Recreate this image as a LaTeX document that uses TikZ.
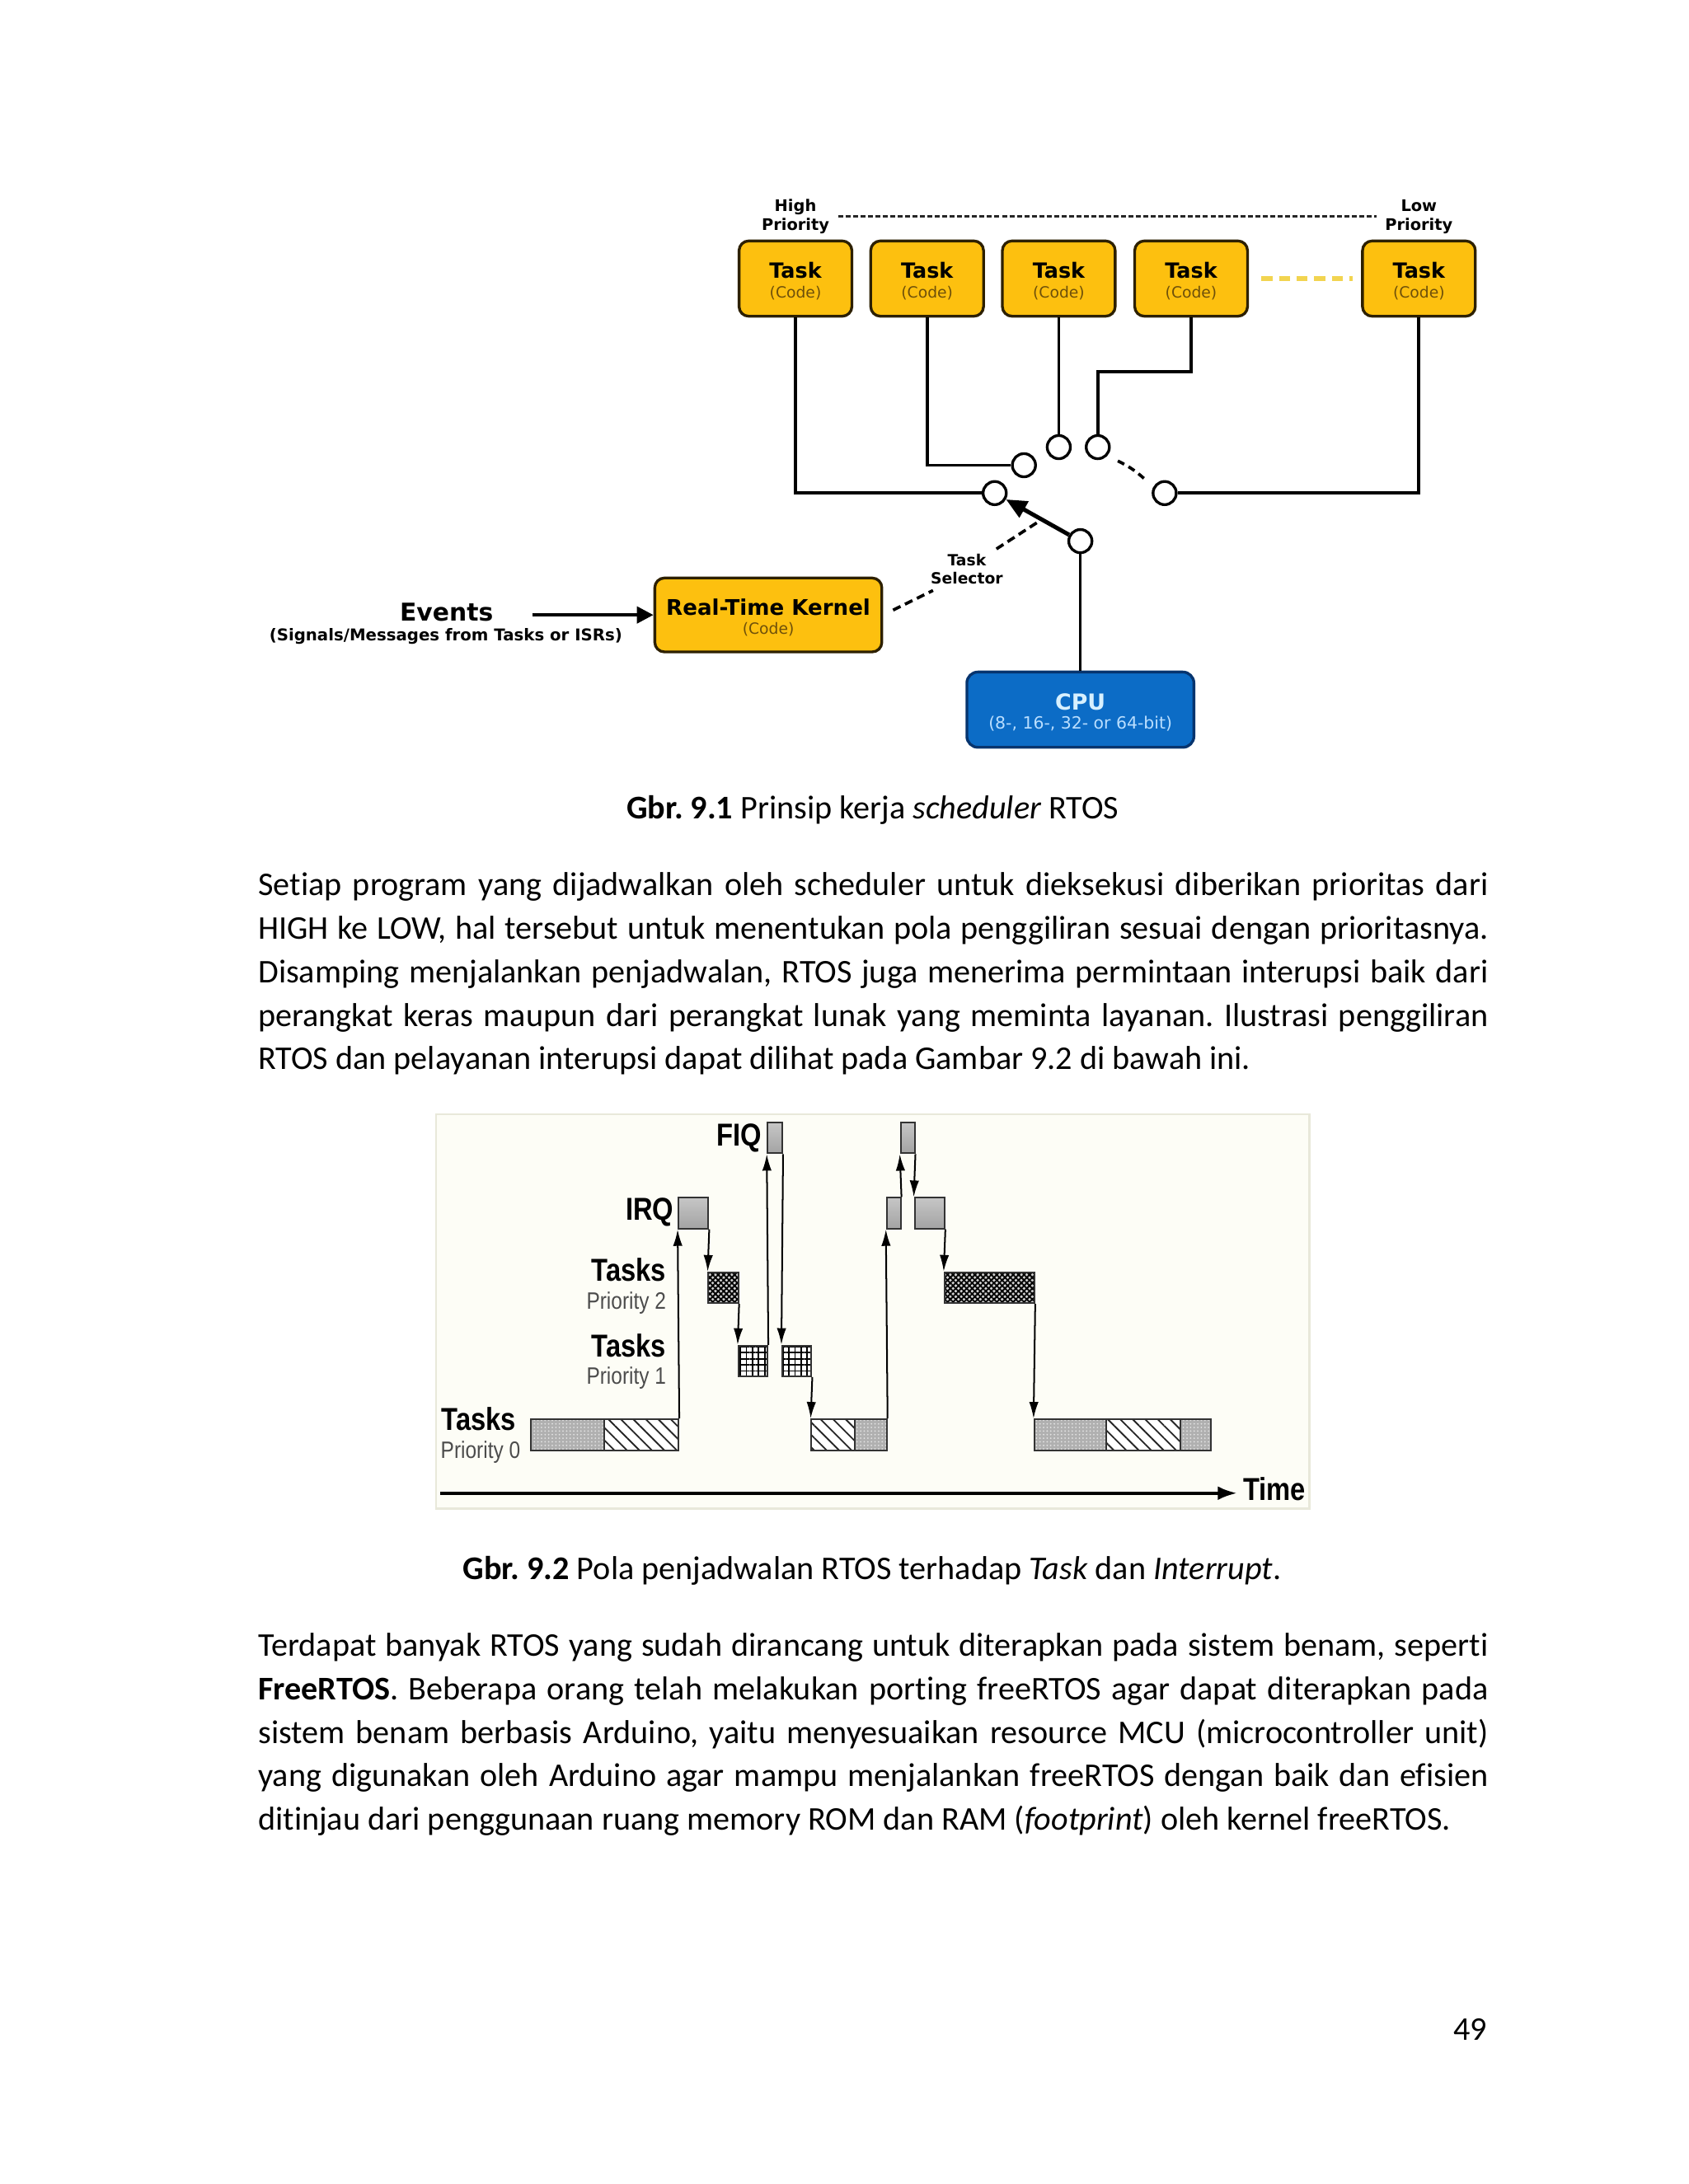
\documentclass[tikz,border=0pt]{standalone}
\usepackage{fontspec}
\setmainfont[Ligatures={CommonOff}]{Carlito}
\newfontfamily\vfont{DejaVu Sans}
\newfontfamily\afont[FakeStretch=0.85]{Liberation Sans}
\usetikzlibrary{arrows.meta,patterns.meta,fit,calc}
\frenchspacing
\definecolor{taskyellow}{RGB}{253,192,15}
\definecolor{boxborder}{RGB}{45,32,0}
\definecolor{codebrown}{RGB}{110,80,10}
\definecolor{cpublue}{RGB}{12,108,198}
\definecolor{cpuborder}{RGB}{6,52,110}
\definecolor{cputext}{RGB}{215,240,255}
\definecolor{cpusub}{RGB}{185,222,255}
\definecolor{ydash}{RGB}{242,212,80}
\definecolor{framefill}{RGB}{253,253,246}
\definecolor{frameborder}{RGB}{232,232,218}
\newlength\txtw
\setlength\txtw{445.9pt}
\newcommand\jline[1]{\makebox[\txtw][s]{#1}}
\tikzset{
  txt/.style={inner sep=0pt, anchor=base west, font=\fontsize{12}{15}\selectfont},
  capt/.style={inner sep=0pt, anchor=base, font=\fontsize{12}{15}\selectfont},
  taskbox/.style={draw=boxborder, line width=1pt, fill=taskyellow, rounded corners=3.5pt,
    minimum width=40.9pt, minimum height=27.3pt, inner sep=0pt, align=center,
    font=\vfont\fontsize{7.6}{7}\selectfont},
  kbox/.style={taskbox, minimum width=82.3pt, minimum height=26.8pt, font=\vfont\fontsize{7.8}{6.9}\selectfont},
  cpubox/.style={draw=cpuborder, line width=1pt, fill=cpublue, rounded corners=4pt,
    minimum width=82.3pt, minimum height=27.3pt, inner sep=0pt, align=center,
    font=\vfont\fontsize{8}{7}\selectfont},
  prio/.style={inner sep=3pt, align=center, font=\vfont\bfseries\fontsize{5.8}{6.8}\selectfont},
  circ/.style={circle, draw, line width=1pt, fill=white, minimum size=8.4pt, inner sep=0pt},
  conn/.style={line width=1.1pt, black},
  seldash/.style={line width=1.1pt, dash pattern=on 3pt off 1.8pt},
  flbl/.style={inner sep=0pt, font=\afont\bfseries\fontsize{11.5}{12}\selectfont},
  flblr/.style={inner sep=0pt, text=black!70, font=\afont\fontsize{8.6}{9}\selectfont},
  bxline/.style={draw=black!80, line width=0.6pt},
  p0box/.style={bxline, inner sep=0pt},
  irqbox/.style={bxline, inner sep=0pt, top color=gray!45, bottom color=gray!72},
  p2box/.style={bxline, inner sep=0pt, preaction={fill=gray!35},
    pattern={Hatch[angle=45,distance=1.4pt,line width=0.55pt]}, pattern color=black},
  p1box/.style={bxline, inner sep=0pt, preaction={fill=white},
    pattern={Hatch[angle=0,distance=2.2pt,line width=0.5pt]}, pattern color=black},
  dotfill/.style={preaction={fill=gray!62}, pattern={Dots[radius=0.3pt,distance=1.3pt]}, pattern color=gray!22},
  hatchfill/.style={preaction={fill=white}, pattern={Lines[angle=-45,distance=3.2pt,line width=0.55pt]}, pattern color=black!85},
  a2/.style={line width=0.6pt, -{Latex[length=6pt,width=3.4pt]}}
}
\begin{document}
\begin{tikzpicture}[x=0.505pt,y=-0.505pt]
\useasboundingbox[fill=white] (0,0) rectangle (1212,1568);

%================ Figure 9.1 =================
\node[prio] (hi) at (571,155.5) {High\\Priority};
\node[prio] (lo) at (1018.5,155.5) {Low\\Priority};
\draw[line width=0.9pt, black!85, dash pattern=on 1.8pt off 0.9pt] (hi.east) -- (lo.west);

\node[taskbox] (t1) at (571,200) {\rule{0pt}{7.7pt}{\bfseries Task}\\{\fontsize{5.6}{7}\selectfont\color{codebrown}(Code)}};
\node[taskbox] (t2) at (665.5,200) {\rule{0pt}{7.7pt}{\bfseries Task}\\{\fontsize{5.6}{7}\selectfont\color{codebrown}(Code)}};
\node[taskbox] (t3) at (760,200) {\rule{0pt}{7.7pt}{\bfseries Task}\\{\fontsize{5.6}{7}\selectfont\color{codebrown}(Code)}};
\node[taskbox] (t4) at (855,200) {\rule{0pt}{7.7pt}{\bfseries Task}\\{\fontsize{5.6}{7}\selectfont\color{codebrown}(Code)}};
\node[taskbox] (t5) at (1018.5,200) {\rule{0pt}{7.7pt}{\bfseries Task}\\{\fontsize{5.6}{7}\selectfont\color{codebrown}(Code)}};
\draw[ydash, line width=1.6pt, dash pattern=on 4pt off 2.4pt, shorten <=4.5pt, shorten >=3pt] (t4) -- (t5);

\node[circ] (c1) at (714,354) {};
\node[circ] (c2) at (735,334) {};
\node[circ] (c3) at (760,321) {};
\node[circ] (c4) at (788,321) {};
\node[circ] (c5) at (836,354) {};
\node[circ] (csw) at (775.5,388.5) {};
\coordinate (k4) at (855,267);

\draw[conn] (t1.south) |- (c1.west);
\draw[conn] (t2.south) |- (c2.west);
\draw[conn] (t3.south) -- (c3.north);
\draw[conn] (t4.south) -- (k4) -| (c4.north);
\draw[conn] (t5.south) |- (c5.east);
\draw[line width=1.1pt, dash pattern=on 2.6pt off 1.8pt] ($(c4)!0.3!(c5)$) to[bend left=8] ($(c4)!0.72!(c5)$);
\draw[line width=1.5pt, -{Triangle[length=7.5pt,width=6.5pt]}] (csw) -- (c1);

\node[cpubox] (cpu) at (775.5,509.5) {\rule{0pt}{7.8pt}{\bfseries\color{cputext}CPU}\\{\fontsize{6.1}{7}\selectfont\color{cpusub}(8-, 16-, 32- or 64-bit)}};
\draw[conn] (csw) -- (cpu);

\node[kbox] (kernel) at (551.5,441.5) {\rule{0pt}{8pt}{\bfseries Real-Time Kernel}\\{\fontsize{5.6}{6.9}\selectfont\color{codebrown}(Code)}};

\node[inner sep=1pt, align=center, font=\vfont\bfseries\fontsize{5.6}{6.8}\selectfont] (sel) at (694,408.5) {Task\\Selector};
\coordinate (armpt) at ($(csw)!0.45!(c1)$);
\draw[seldash] ($(sel.north east)+(-7,-1)$) -- (armpt);
\draw[seldash, shorten <=4pt] (kernel.east) -- ($(sel.south west)+(4,2)$);

\node[inner sep=0pt, anchor=base, font=\vfont\bfseries\fontsize{8.9}{9}\selectfont] (evt) at (320.5,446) {Events};
\node[inner sep=0pt, anchor=base, font=\vfont\bfseries\fontsize{5.9}{6}\selectfont] (evsub) at (320,460) {(Signals/Messages from Tasks or ISRs)};
\coordinate (evs) at (382,441.5);
\draw[line width=1.2pt, -{Triangle[length=6pt,width=6pt]}] (evs) -- (kernel.west);

\node[capt] (cap1) at (626.5,588) {\textbf{Gbr. 9.1} Prinsip kerja \textit{scheduler} RTOS};

%================ Paragraph 1 =================
\node[txt] (l11) at (185,643) {\jline{Setiap program yang dijadwalkan oleh scheduler untuk dieksekusi diberikan prioritas dari}};
\node[txt] (l12) at (185,674.25) {\jline{HIGH ke LOW, hal tersebut untuk menentukan pola penggiliran sesuai dengan prioritasnya.}};
\node[txt] (l13) at (185,705.5) {\jline{Disamping menjalankan penjadwalan, RTOS juga menerima permintaan interupsi baik dari}};
\node[txt] (l14) at (185,736.75) {\jline{perangkat keras maupun dari perangkat lunak yang meminta layanan. Ilustrasi penggiliran}};
\node[txt] (l15) at (185,768) {RTOS dan pelayanan interupsi dapat dilihat pada Gambar 9.2 di bawah ini.};

%================ Figure 9.2 =================
\draw[fill=framefill, draw=frameborder, line width=0.8pt] (313,800) rectangle (940,1083);

\fill[dotfill] (381,1019) rectangle (434,1041.5);
\fill[hatchfill] (434,1019) rectangle (487,1041.5);
\fill[hatchfill] (582.5,1019) rectangle (613.6,1041.5);
\fill[dotfill] (613.6,1019) rectangle (636.5,1041.5);
\fill[dotfill] (742.5,1019) rectangle (794.2,1041.5);
\fill[hatchfill] (794.2,1019) rectangle (847.4,1041.5);
\fill[dotfill] (847.4,1019) rectangle (869,1041.5);
\draw[bxline] (434,1019) -- (434,1041.5);
\draw[bxline] (613.6,1019) -- (613.6,1041.5);
\draw[bxline] (794.2,1019) -- (794.2,1041.5);
\draw[bxline] (847.4,1019) -- (847.4,1041.5);

\node[p0box, fit={(381,1019) (487,1041.5)}] (p0a) {};
\node[p0box, fit={(582.5,1019) (636.5,1041.5)}] (p0b) {};
\node[p0box, fit={(742.5,1019) (869,1041.5)}] (p0c) {};

\node[irqbox, fit={(551,806) (561.5,828)}] (fiq1) {};
\node[irqbox, fit={(646.5,806) (656.5,828)}] (fiq2) {};
\node[irqbox, fit={(487,860) (508.5,882)}] (irq1) {};
\node[irqbox, fit={(636.5,860) (646.5,882)}] (irq2) {};
\node[irqbox, fit={(656.5,860) (678,882)}] (irq3) {};
\node[p2box, fit={(508.5,913.5) (530,935.5)}] (p2a) {};
\node[p2box, fit={(678,913.5) (742.5,935.5)}] (p2b) {};
\node[p1box, fit={(530,966) (551,988)}] (p1a) {};
\node[p1box, fit={(561.5,966) (582.5,988)}] (p1b) {};

\draw[a2] (p0a.north east) -- (irq1.south west);
\draw[a2] (irq1.south east) -- (p2a.north west);
\draw[a2] (p2a.south east) -- (p1a.north west);
\draw[a2] (p1a.north east) -- (fiq1.south west);
\draw[a2] (fiq1.south east) -- (p1b.north west);
\draw[a2] (p1b.south east) -- (p0b.north west);
\draw[a2] (p0b.north east) -- (irq2.south west);
\draw[a2] (irq2.north east) -- (fiq2.south west);
\draw[a2] (fiq2.south east) -- (irq3.north west);
\draw[a2] (irq3.south east) -- (p2b.north west);
\draw[a2] (p2b.south east) -- (p0c.north west);

\node[flbl, anchor=base east] (fiql) at (547,823) {FIQ};
\node[flbl, anchor=base east] (irql) at (484,876) {IRQ};
\node[flbl, anchor=base east] (t2l) at (478.5,920) {Tasks};
\node[flblr, anchor=base east] (p2l) at (478.5,940) {Priority 2};
\node[flbl, anchor=base east] (t1l) at (478.5,974) {Tasks};
\node[flblr, anchor=base east] (p1l) at (478.5,994) {Priority 1};
\node[flbl, anchor=base west] (t0l) at (316.5,1027) {Tasks};
\node[flblr, anchor=base west] (p0l) at (316,1047) {Priority 0};

\node[flbl, anchor=base west] (timel) at (892,1077) {Time};
\coordinate (t0) at (316,1072);
\draw[line width=1.2pt, shorten >=2pt, -{Latex[length=7pt,width=5pt]}] (t0) -- (t0 -| timel.west);

\node[capt] (cap2) at (626,1134) {\textbf{Gbr. 9.2} Pola penjadwalan RTOS terhadap \textit{Task} dan \textit{Interrupt}.};

%================ Paragraph 2 =================
\node[txt] (l21) at (185,1189) {\jline{Terdapat banyak RTOS yang sudah dirancang untuk diterapkan pada sistem benam, seperti}};
\node[txt] (l22) at (185,1220.25) {\jline{\textbf{FreeRTOS}. Beberapa orang telah melakukan porting freeRTOS agar dapat diterapkan pada}};
\node[txt] (l23) at (185,1251.5) {\jline{sistem benam berbasis Arduino, yaitu menyesuaikan resource MCU (microcontroller unit)}};
\node[txt] (l24) at (185,1282.75) {\jline{yang digunakan oleh Arduino agar mampu menjalankan freeRTOS dengan baik dan efisien}};
\node[txt] (l25) at (185,1314) {ditinjau dari penggunaan ruang memory ROM dan RAM (\textit{footprint}) oleh kernel freeRTOS.};

\node[inner sep=0pt, anchor=base east, font=\fontsize{12}{15}\selectfont] (pnum) at (1068,1465) {49};
\end{tikzpicture}
\end{document}
